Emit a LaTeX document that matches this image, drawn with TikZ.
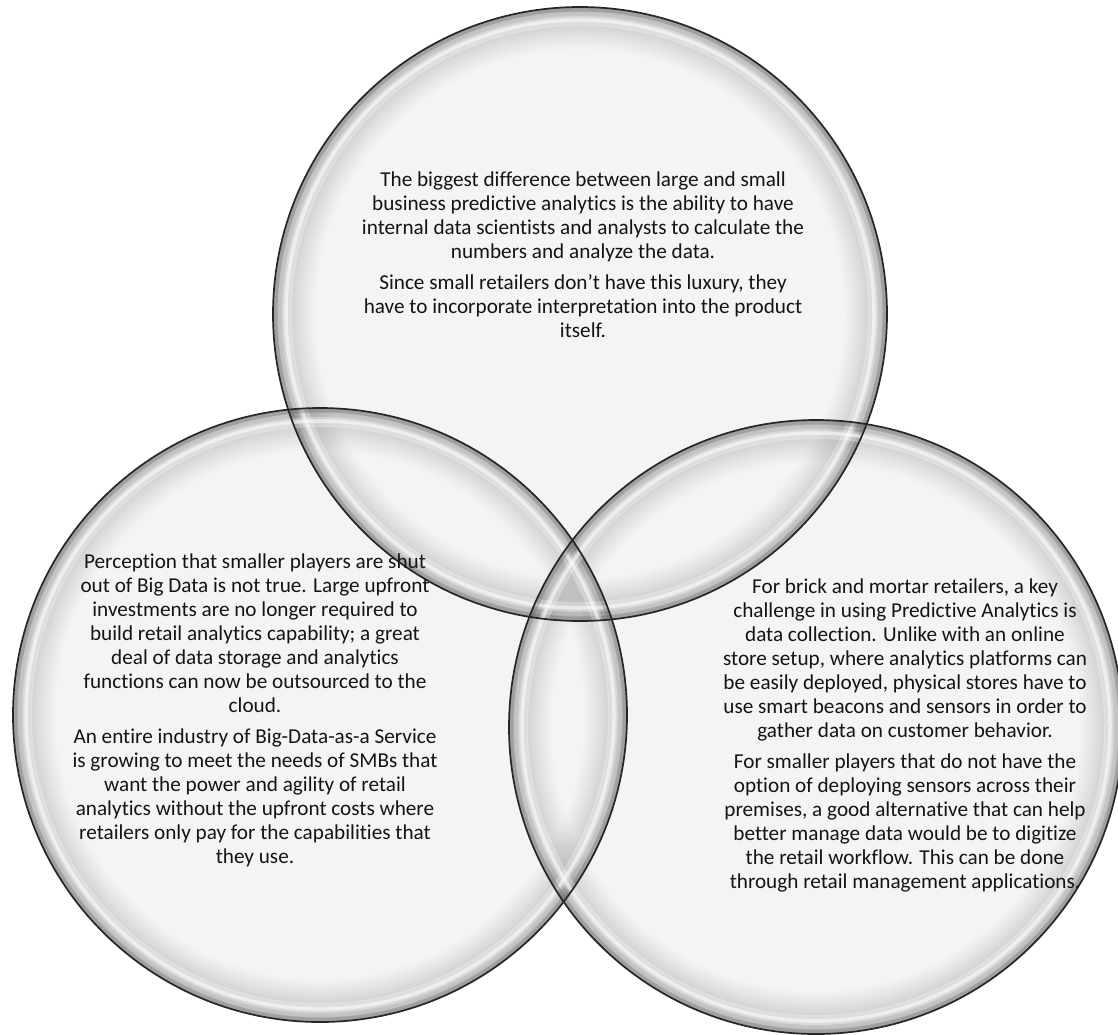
\documentclass[tikz,border=0pt]{standalone}
\usepackage{fontspec}
\setmainfont{Carlito}[Ligatures={NoCommon,NoContextual}]
\definecolor{basefill}{HTML}{F4F4F4}
\definecolor{rimgray}{HTML}{6C6C6C}
\definecolor{txt}{HTML}{141414}
\tikzset{
  glassbase/.style={fill=basefill},
  glassrim/.style={fill=rimgray, fill opacity=0.02, even odd rule},
  glassdark/.style={draw=rimgray, line width=4pt, draw opacity=0.35},
  glasshigh/.style={draw=white, line width=10pt, draw opacity=0.3},
  glasshighcore/.style={draw=white, line width=3.5pt, draw opacity=0.55},
  glassedge/.style={draw=black!85, line width=1.7pt},
  bodytext/.style={text=txt, align=center, inner sep=0pt,
    font=\fontsize{21.2}{24}\selectfont}
}
\begin{document}
\begin{tikzpicture}[x=1pt,y=-1pt]
\useasboundingbox (0,0) rectangle (1118,1034);
\def\R{307}
\coordinate (ctop) at (580,314);
\coordinate (cleft) at (320,715);
\coordinate (cright) at (816,727);
\foreach \c in {ctop,cleft,cright}{\fill[glassbase] (\c) circle (\R);}
\foreach \c in {ctop,cleft,cright}{
  \foreach \k in {1,...,26}{
    \pgfmathsetmacro{\rin}{\R-42*(\k/26)^1.6}
    \fill[glassrim] (\c) circle (\R) (\c) circle (\rin);
  }}
\foreach \c in {ctop,cleft,cright}{
  \draw[glassdark] (\c) circle (\R-2.5);
  \draw[glasshigh] (\c) circle (\R-14);
  \draw[glasshighcore] (\c) circle (\R-13);}
\foreach \c in {ctop,cleft,cright}{\draw[glassedge] (\c) circle (\R);}
\node[bodytext] (ttop) at (583,255) {The biggest difference between large and small\\
business predictive analytics is the ability to have\\
internal data scientists and analysts to calculate the\\
numbers and analyze the data.\\[7pt]
Since small retailers don’t have this luxury, they\\
have to incorporate interpretation into the product\\
itself.};
\node[bodytext] (tleft) at (255,710) {Perception that smaller players are shut\\
out of Big Data is not true. Large upfront\\
investments are no longer required to\\
build retail analytics capability; a great\\
deal of data storage and analytics\\
functions can now be outsourced to the\\
cloud.\\[7pt]
An entire industry of Big-Data-as-a Service\\
is growing to meet the needs of SMBs that\\
want the power and agility of retail\\
analytics without the upfront costs where\\
retailers only pay for the capabilities that\\
they use.};
\node[bodytext] (tright) at (905,735) {For brick and mortar retailers, a key\\
challenge in using Predictive Analytics is\\
data collection. Unlike with an online\\
store setup, where analytics platforms can\\
be easily deployed, physical stores have to\\
use smart beacons and sensors in order to\\
gather data on customer behavior.\\[7pt]
For smaller players that do not have the\\
option of deploying sensors across their\\
premises, a good alternative that can help\\
better manage data would be to digitize\\
the retail workflow. This can be done\\
through retail management applications.};
\end{tikzpicture}
\end{document}
